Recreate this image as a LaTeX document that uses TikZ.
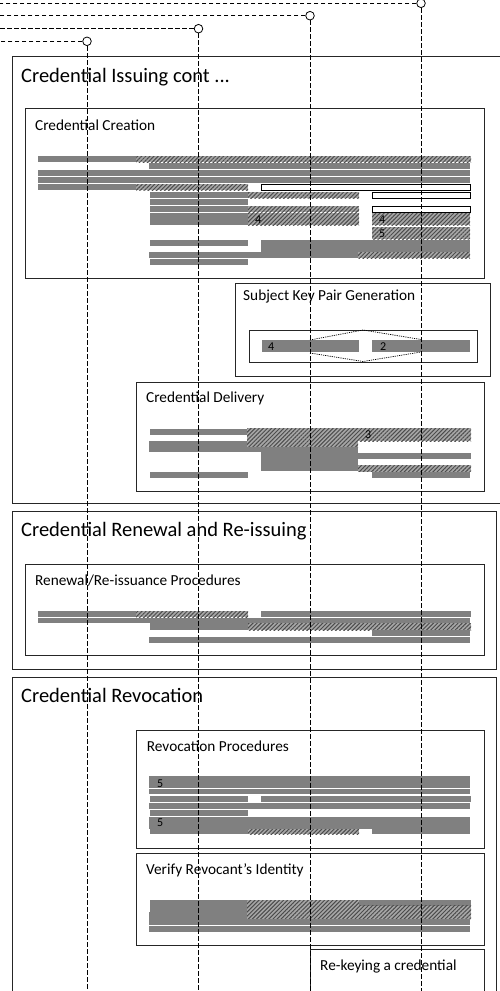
\documentclass[tikz,border=0pt]{standalone}
\usepackage{fontspec}
\setmainfont{Carlito}
\usetikzlibrary{patterns.meta}

\tikzset{
    frame/.style={draw=black!85, line width=0.8pt},
    boxtitle/.style={anchor=base west, inner sep=0pt, font=\fontsize{20.5}{22}\selectfont},
    subtitle/.style={anchor=base west, inner sep=0pt, font=\fontsize{15.3}{17}\selectfont},
    digit/.style={anchor=base west, inner sep=0pt, font=\fontsize{12}{13}\selectfont, text=black},
    redact/.style={fill=gray},
    redacthatch/.style={fill=gray!70, postaction={pattern={Lines[angle=45, distance=2.9pt, line width=1pt]}, pattern color=black!70}},
    blank/.style={draw=black, fill=white, line width=0.6pt},
    lane/.style={draw=black, dash pattern=on 4.5pt off 2.5pt, line width=0.7pt},
    lanedot/.style={circle, draw=black, fill=white, line width=0.8pt, minimum size=8.6pt, inner sep=0pt},
    keypath/.style={draw=black, dash pattern=on 1.2pt off 1pt, line width=0.7pt},
}

\begin{document}
\begin{tikzpicture}[x=1pt, y=-1pt]
    \clip (0,0) rectangle (500,991);

    % Credential Issuing cont ...
    \draw[frame] (12,56) rectangle (510,503);
    \node[boxtitle] (issue) at (21,82) {Credential Issuing cont ...};

    % Credential Creation
    \draw[frame] (25,108) rectangle (484,278);
    \node[subtitle] (create) at (35,130) {Credential Creation};
    \fill[redact] (38,156) rectangle (136,162);
    \fill[redacthatch] (136,156) rectangle (471,162);
    \fill[redact] (149,163) rectangle (470,169);
    \fill[redact] (38,170) rectangle (470,176);
    \fill[redact] (38,177) rectangle (470,183);
    \fill[redact] (38,184) rectangle (136,190);
    \fill[redacthatch] (136,184) rectangle (248,190);
    \draw[blank] (261,184.5) rectangle (470,190);
    \fill[redact] (150,192) rectangle (248,198);
    \fill[redacthatch] (248,192) rectangle (359,198);
    \draw[blank] (372,192.5) rectangle (470,198);
    \fill[redact] (150,199) rectangle (248,205);
    \fill[redact] (150,206) rectangle (248,212);
    \fill[redacthatch] (248,206) rectangle (359,212);
    \draw[blank] (372,206.5) rectangle (470,212);
    \fill[redact] (150,213) rectangle (248,225);
    \fill[redacthatch] (248,213) rectangle (359,225);
    \fill[redacthatch] (372,213) rectangle (470,225);
    \fill[redacthatch] (372,227) rectangle (470,239);
    \node[digit] (c4a) at (255,223.5) {4};
    \node[digit] (c4b) at (379,223.5) {4};
    \node[digit] (c5) at (379,237) {5};
    \fill[redact] (150,240) rectangle (248,246);
    \fill[redact] (261,240) rectangle (470,252);
    \fill[redact] (149,252) rectangle (358,258);
    \fill[redacthatch] (358,252) rectangle (470,258);
    \fill[redact] (150,259) rectangle (248,265);

    % Subject Key Pair Generation
    \draw[frame] (235,283) rectangle (490,376);
    \node[subtitle] (keygen) at (243,300) {Subject Key Pair Generation};
    \draw[frame] (249,330) rectangle (477,362);
    \fill[redact] (262,340) rectangle (359,352);
    \fill[redact] (372,340) rectangle (470,352);
    \node[digit] (k4) at (268,350) {4};
    \node[digit] (k2) at (380,350) {2};
    \draw[keypath] (310,340) -- (363,330) -- (421,339.5);
    \draw[keypath] (310,353) -- (363,361.5) -- (421,352);

    % Credential Delivery
    \draw[frame] (136,382) rectangle (484,491);
    \node[subtitle] (deliver) at (146,402) {Credential Delivery};
    \fill[redact] (150,429) rectangle (247,435);
    \fill[redacthatch] (247,428) rectangle (471,441);
    \fill[redacthatch] (247,441) rectangle (358,447);
    \fill[redact] (149,441) rectangle (247,452);
    \fill[redact] (247,447) rectangle (358,452);
    \fill[redact] (261,452) rectangle (358,471);
    \fill[redact] (358,453) rectangle (471,459);
    \fill[redacthatch] (358,465) rectangle (471,471.5);
    \fill[redact] (372,471.5) rectangle (470,477.5);
    \fill[redact] (150,471.5) rectangle (248,477.5);
    \node[digit] (d3) at (365,438) {3};

    % Credential Renewal and Re-issuing
    \draw[frame] (12,511) rectangle (496,669);
    \node[boxtitle] (renew) at (21,536) {Credential Renewal and Re-issuing};
    \draw[frame] (25,564) rectangle (484,655);
    \node[subtitle] (renewproc) at (35,585) {Renewal/Re-issuance Procedures};
    \fill[redact] (38,611) rectangle (136,617);
    \fill[redacthatch] (136,611) rectangle (248,617);
    \fill[redact] (261,611) rectangle (471,617);
    \fill[redact] (38,617.7) rectangle (470,623.3);
    \fill[redact] (150,623.3) rectangle (248,630);
    \fill[redacthatch] (248,623.3) rectangle (471,630);
    \fill[redact] (372,630) rectangle (470,636);
    \fill[redact] (149,637) rectangle (470,643);

    % Credential Revocation
    \draw[frame] (12,677) rectangle (496,1000);
    \node[boxtitle] (revoke) at (21,702) {Credential Revocation};
    \draw[frame] (136,730) rectangle (484,848);
    \node[subtitle] (revokeproc) at (146.7,751) {Revocation Procedures};
    \fill[redact] (149,776) rectangle (470,788);
    \fill[redact] (149,789) rectangle (470,794.3);
    \fill[redact] (150,795.7) rectangle (248,801.7);
    \fill[redact] (261,795.7) rectangle (471,801.7);
    \fill[redact] (149,802.7) rectangle (470,809);
    \fill[redact] (150,810) rectangle (248,815.7);
    \fill[redact] (149,817) rectangle (470,829);
    \fill[redact] (150,829) rectangle (248,834.3);
    \fill[redacthatch] (248,829) rectangle (359,834.3);
    \fill[redact] (372,829) rectangle (470,834.3);
    \node[digit] (r5a) at (157,787) {5};
    \node[digit] (r5b) at (157,826.5) {5};

    % Verify Revocant's Identity
    \draw[frame] (136,853) rectangle (484,945);
    \node[subtitle] (verify) at (146,874) {Verify Revocant’s Identity};
    \fill[redact] (150,900) rectangle (247,911.7);
    \fill[redact] (149,912.3) rectangle (247,919);
    \fill[redacthatch] (247,900) rectangle (359,919);
    \fill[redact] (359,900) rectangle (471,905.7);
    \fill[redacthatch] (359,905.7) rectangle (471,919);
    \fill[redact] (149,919) rectangle (470,925);
    \fill[redact] (149,926) rectangle (470,931.7);

    % Re-keying a credential
    \draw[frame] (310,949) rectangle (484,1000);
    \node[subtitle] (rekey) at (320,970) {Re-keying a credential};

    % swim lanes
    \foreach \n/\x/\y in {1/87/41.3, 2/198.5/28.7, 3/310/15.7, 4/421/3.3} {
        \node[lanedot] (lane\n) at (\x,\y) {};
        \coordinate (lane\n w) at (-2,\y);
        \coordinate (lane\n s) at (\x,995);
        \draw[lane] (lane\n) -- (lane\n w);
        \draw[lane] (lane\n) -- (lane\n s);
    }
\end{tikzpicture}
\end{document}
